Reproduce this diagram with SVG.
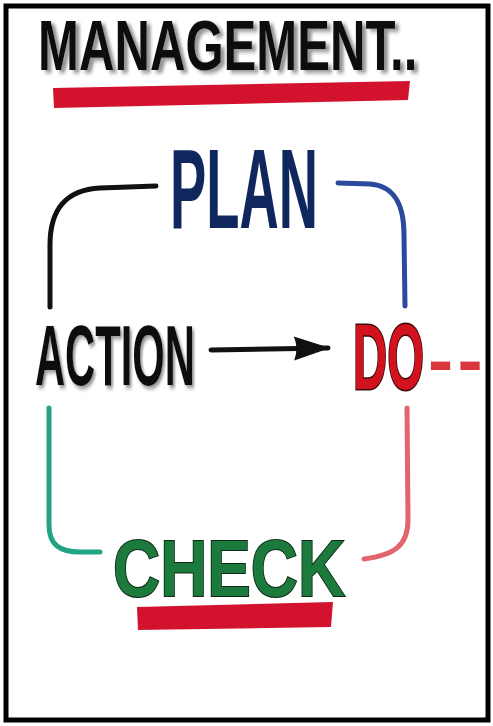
<svg xmlns="http://www.w3.org/2000/svg" width="493" height="726" viewBox="0 0 493 726">
  <defs>
    <filter id="shadow" x="-10%" y="-20%" width="130%" height="150%">
      <feGaussianBlur in="SourceAlpha" stdDeviation="2"/>
      <feOffset dx="5" dy="3" result="b"/>
      <feFlood flood-color="#7a7a7a" flood-opacity="0.8"/>
      <feComposite in2="b" operator="in"/>
      <feMerge><feMergeNode/><feMergeNode in="SourceGraphic"/></feMerge>
    </filter>
    <marker id="arrow" viewBox="0 0 40 26" refX="36" refY="13" markerWidth="40" markerHeight="26" markerUnits="userSpaceOnUse" orient="auto">
      <path d="M2,1 L38,13 L2,25 Q7,13 2,1 Z" fill="#111"/>
    </marker>
  </defs>
  <style>
    .lbl { font-family: "Liberation Sans", Arial, sans-serif; font-weight: bold; }
    .line { fill: none; stroke-width: 5; stroke-linecap: round; stroke-linejoin: round; }
  </style>
  <rect x="6" y="6" width="482" height="714" fill="#fff" stroke="#000" stroke-width="5"/>

  <g id="title">
    <text class="lbl" transform="translate(38,70) scale(0.702,1)" font-size="70" fill="#111" filter="url(#shadow)">MANAGEMENT..</text>
    <path d="M53,88 L410,81 L408,100 L54,108 Z" fill="#d3122e"/>
  </g>

  <g id="plan">
    <text class="lbl" transform="translate(170,228) scale(0.477,1)" font-size="114" fill="#10275e">PLAN</text>
  </g>

  <g id="action">
    <text class="lbl" transform="translate(35,385) scale(0.485,1)" font-size="86" fill="#111" filter="url(#shadow)">ACTION</text>
  </g>

  <g id="do">
    <text class="lbl" transform="translate(353,389) scale(0.509,1)" font-size="93" fill="#d3121f" stroke="#3a0a0a" stroke-width="3" paint-order="stroke">DO</text>
    <text class="lbl" transform="translate(428,384) scale(1.08,1)" font-size="70" letter-spacing="4" fill="#d9363e">--</text>
  </g>

  <g id="check">
    <text class="lbl" transform="translate(113,596) scale(0.816,1)" font-size="80" fill="#1b7a3c" stroke="#0d2615" stroke-width="2" paint-order="stroke">CHECK</text>
    <path d="M137,607 L333,602 L331,627 L138,630 Z" fill="#d3132e"/>
  </g>

  <g id="connectors">
    <path class="line" stroke="#111" d="M156,186 L100,188 C65,190 50,210 50,245 L50,307"/>
    <path class="line" stroke="#2b4a9e" d="M338,183 L370,184 C395,186 404,205 404,235 L405,306"/>
    <path class="line" stroke="#23a484" d="M49,408 L49,525 C49,545 60,552 80,552 L100,552"/>
    <path class="line" stroke="#e2646c" d="M407,408 L408,520 C408,545 395,555 364,559"/>
    <path class="line" stroke="#111" stroke-width="4" d="M211,350 L328,348" marker-end="url(#arrow)"/>
  </g>
</svg>
